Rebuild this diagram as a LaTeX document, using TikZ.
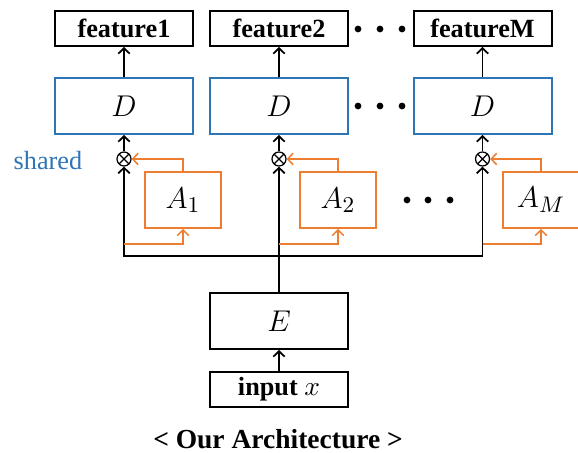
\documentclass[tikz,border=0pt]{standalone}
\usepackage{fontspec}
\setmainfont{Liberation Serif}
\usetikzlibrary{shapes,arrows.meta,positioning,calc}

\definecolor{dblue}{RGB}{46,117,182}
\definecolor{aorange}{RGB}{237,125,49}

\tikzset{
    txt/.style={font=\fontsize{10.5}{12}\selectfont\bfseries},
    featbox/.style={draw, txt, line width=0.8pt, minimum width=55.2pt, minimum height=14pt, inner sep=0pt},
    decbox/.style={draw=dblue, line width=0.8pt, minimum width=55.2pt, minimum height=22.4pt, font=\fontsize{13}{14}\selectfont},
    attbox/.style={draw=aorange, line width=0.8pt, minimum width=30.4pt, minimum height=22.4pt, font=\fontsize{13}{14}\selectfont},
    encbox/.style={draw, line width=0.8pt, minimum width=55pt, minimum height=22.4pt, font=\fontsize{13}{14}\selectfont},
    mult/.style={circle, draw, line width=0.5pt, minimum size=5.6pt, inner sep=0pt,
        path picture={\draw[line width=0.5pt] (path picture bounding box.north west) -- (path picture bounding box.south east)
            (path picture bounding box.north east) -- (path picture bounding box.south west);}},
    orng/.style={draw=aorange, line width=0.6pt},
}

\begin{document}
\begin{tikzpicture}[x=0.4pt, y=-0.4pt, >={Straight Barb[length=2.2pt,width=4.6pt]}, line width=0.7pt]
    \useasboundingbox (0,0) rectangle (578,452);

    % outputs
    \node[featbox] (feat1) at (124,28.5) {feature1};
    \node[featbox] (feat2) at (279,28.5) {feature2};
    \node[featbox] (featM) at (482.5,28.5) {featureM};

    % shared decoders
    \node[decbox] (dec1) at (124,106) {$D$};
    \node[decbox] (dec2) at (279,106) {$D$};
    \node[decbox] (decM) at (482.5,106) {$D$};
    \node[dblue, font=\fontsize{10.5}{12}\selectfont] (shared) at (48,161) {shared};

    % products
    \node[mult] (m1) at (124,159) {};
    \node[mult] (m2) at (279,159) {};
    \node[mult] (mM) at (482.5,159) {};

    % attention modules
    \node[attbox] (att1) at (183,200) {$A_1$};
    \node[attbox] (att2) at (338,200) {$A_2$};
    \node[attbox] (attM) at (541,200) {$A_M$};

    % encoder and input
    \node[encbox] (enc) at (279,321) {$E$};
    \node[featbox] (inp) at (279,389.5) {input $x$};
    \node[txt, font=\fontsize{11}{12}\selectfont\bfseries, anchor=base] (caption) at (278,448) {< Our Architecture >};

    % dots
    \foreach \y in {29,106} {
        \foreach \x in {358,380,402}
            \fill (\x,\y) circle (1.35pt);
    }
    \foreach \x in {407,428,450}
        \fill (\x,200) circle (1.35pt);

    \coordinate (bus) at (279,256);
    \coordinate (tap1) at (124,244);
    \coordinate (tap2) at (279,244);
    \coordinate (tapM) at (482.5,244);

    \draw[->] (inp) -- (enc);
    \draw (enc) -- (bus);
    \draw[->] (bus) -| (m1);
    \draw[->] (bus) -| (mM);
    \draw[->] (bus) -- (m2);

    \foreach \i in {1,2,M} {
        \draw[->] (m\i) -- (dec\i);
        \draw[->] (dec\i) -- (feat\i);
        \draw[->, orng] (att\i.north) |- (m\i);
        \draw[->, orng] (tap\i) -| (att\i.south);
    }
\end{tikzpicture}
\end{document}
